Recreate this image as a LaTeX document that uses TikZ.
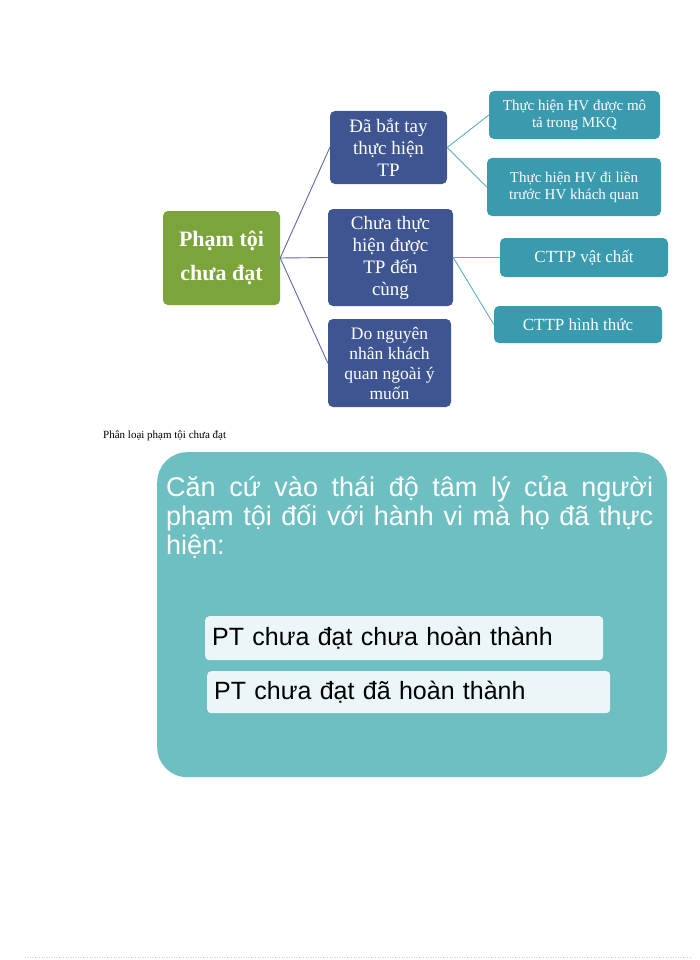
\documentclass[tikz,border=0pt]{standalone}
\usepackage{fontspec}
\setmainfont{Liberation Serif}
\newfontfamily\arialf{Liberation Sans}
\definecolor{rootc}{HTML}{7BA43A}
\definecolor{midc}{HTML}{3E5592}
\definecolor{leafc}{HTML}{3A9AAE}
\definecolor{bigc}{HTML}{6EBFC2}
\definecolor{innerc}{HTML}{EAF6F7}
\definecolor{lnA}{HTML}{5A6AA8}
\definecolor{lnB}{HTML}{5AAFC0}
\tikzset{
 box/.style={rounded corners=5pt,inner sep=0pt,align=center,text=white},
 rootbox/.style={box,fill=rootc,font=\fontsize{22}{34}\selectfont\bfseries},
 midbox/.style={box,fill=midc,font=\fontsize{19}{22}\selectfont},
 leafbox/.style={box,fill=leafc,font=\fontsize{15}{17}\selectfont},
 lnmid/.style={lnA,line width=0.9pt},
 lnleaf/.style={lnB,line width=0.9pt},
 inbox/.style={fill=innerc,rounded corners=4pt,inner sep=0pt,anchor=north west,text=black,font=\arialf\fontsize{25}{28}\selectfont,align=left}
}
\begin{document}
\begin{tikzpicture}[x=1pt,y=-1pt]
\useasboundingbox (0,0) rectangle (700,960);
\node[rootbox,minimum width=117pt,minimum height=94pt] (r) at (221.5,258) {Phạm tội\\chưa đạt};
\node[midbox,minimum width=117pt,minimum height=73pt] (b1) at (388.5,147.5) {Đã bắt tay\\thực hiện\\TP};
\node[midbox,minimum width=125pt,minimum height=97pt] (b2) at (390.5,257.5) {Chưa thực\\hiện được\\TP đến\\cùng};
\node[midbox,minimum width=123pt,minimum height=88pt,font=\fontsize{17.5}{20}\selectfont] (b3) at (389.5,363) {Do nguyên\\nhân khách\\quan ngoài ý\\muốn};
\node[leafbox,minimum width=171pt,minimum height=48pt] (c1) at (574.5,115) {Thực hiện HV được mô\\tả trong MKQ};
\node[leafbox,minimum width=174pt,minimum height=58pt] (c2) at (574,187) {Thực hiện HV đi liền\\trước HV khách quan};
\node[leafbox,minimum width=168pt,minimum height=39pt,font=\fontsize{17}{20}\selectfont] (c3) at (584,257.5) {CTTP vật chất};
\node[leafbox,minimum width=168pt,minimum height=37pt,font=\fontsize{17}{20}\selectfont] (c4) at (578,324.5) {CTTP hình thức};
\draw[lnmid] (r.east) -- (b1.west);
\draw[lnmid] (r.east) -- (b2.west);
\draw[lnmid] (r.east) -- (b3.west);
\draw[lnleaf] (b1.east) -- (c1.west);
\draw[lnleaf] (b1.east) -- (c2.west);
\draw[lnleaf] (b2.east) -- (c3.west);
\draw[lnleaf] (b2.east) -- (c4.west);
\node[anchor=west,font=\fontsize{11}{13}\selectfont,inner sep=0pt] (cap) at (103,436) {Phân loại phạm tội chưa đạt};
\node[fill=bigc,rounded corners=30pt,minimum width=510pt,minimum height=325pt,anchor=north west,inner sep=0pt] (big) at (157,452) {};
\node[anchor=north west,inner sep=0pt,text width=487pt,align=justify,text=white,font=\arialf\fontsize{27}{29}\selectfont] (t) at (166,476) {Căn cứ vào thái độ tâm lý của người phạm tội đối với hành vi mà họ đã thực hiện:};
\node[inbox,minimum width=398pt,minimum height=44pt,text width=390pt] (p1) at (205,616) {\hspace*{3pt}PT chưa đạt chưa hoàn thành};
\node[inbox,minimum width=403pt,minimum height=42pt,text width=395pt] (p2) at (207,671) {\hspace*{3pt}PT chưa đạt đã hoàn thành};
\draw[gray!40,dotted] (25,957) -- (690,957);
\end{tikzpicture}
\end{document}
